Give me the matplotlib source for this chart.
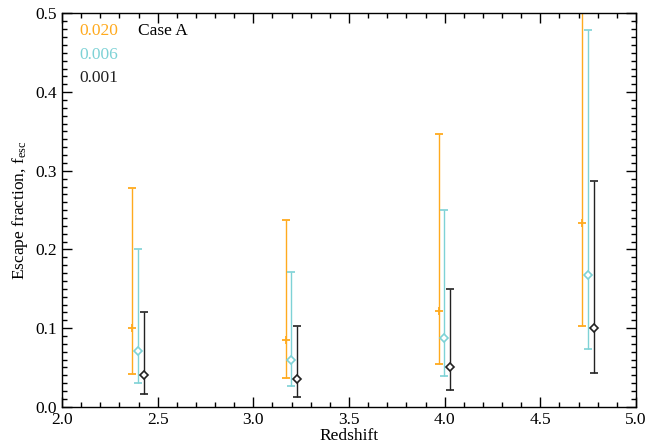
import numpy as np
import matplotlib
matplotlib.use('Agg')
import matplotlib.pyplot as plt
from matplotlib.ticker import MultipleLocator, FormatStrFormatter

plt.rcParams['font.family'] = ['Liberation Serif', 'DejaVu Serif']
plt.rcParams['mathtext.fontset'] = 'custom'
plt.rcParams['mathtext.rm'] = 'Liberation Serif'
plt.rcParams['mathtext.it'] = 'Liberation Serif:italic'

# escape fraction vs redshift, three metallicities (Case A)
z_020 = [2.365, 3.170, 3.968, 4.720]
f_020 = [0.100, 0.085, 0.122, 0.233]
lo_020 = [0.042, 0.037, 0.054, 0.103]
hi_020 = [0.278, 0.238, 0.347, 0.560]

z_006 = [2.396, 3.198, 3.998, 4.750]
f_006 = [0.071, 0.060, 0.087, 0.168]
lo_006 = [0.030, 0.026, 0.039, 0.074]
hi_006 = [0.200, 0.171, 0.250, 0.479]

z_001 = [2.426, 3.228, 4.029, 4.781]
f_001 = [0.041, 0.035, 0.051, 0.100]
lo_001 = [0.016, 0.013, 0.021, 0.043]
hi_001 = [0.120, 0.103, 0.150, 0.287]

series = [
    ('0.020', z_020, f_020, lo_020, hi_020, '#FFAA1E', '+'),
    ('0.006', z_006, f_006, lo_006, hi_006, '#7ED2D6', 'D'),
    ('0.001', z_001, f_001, lo_001, hi_001, '#222222', 'D'),
]

fs = 12.5

fig = plt.figure(figsize=(6.48, 4.48), dpi=100)
ax = fig.add_axes([0.0957, 0.092, 0.8858, 0.878])

for lab, z, f, lo, hi, col, mk in series:
    f = np.array(f)
    yerr = [f - np.array(lo), np.array(hi) - f]
    if mk == '+':
        ax.errorbar(z, f, yerr=yerr, fmt='+', color=col, ms=5.5, mew=1.3,
                    elinewidth=1.0, capsize=2.6, capthick=1.0)
    else:
        ax.errorbar(z, f, yerr=yerr, fmt='D', color=col, mfc='white', mec=col,
                    ms=4, mew=1.2, elinewidth=1.0, capsize=2.6, capthick=1.0)

ax.set_xlim(2.0, 5.0)
ax.set_ylim(0.0, 0.5)
ax.xaxis.set_major_locator(MultipleLocator(0.5))
ax.xaxis.set_minor_locator(MultipleLocator(0.1))
ax.yaxis.set_major_locator(MultipleLocator(0.1))
ax.yaxis.set_minor_locator(MultipleLocator(0.01))
ax.xaxis.set_major_formatter(FormatStrFormatter('%.1f'))
ax.yaxis.set_major_formatter(FormatStrFormatter('%.1f'))
ax.tick_params(which='both', direction='in', top=True, right=True,
               labelsize=fs, width=1.0)
ax.tick_params(which='major', length=7)
ax.tick_params(which='minor', length=3.5)
for s in ax.spines.values():
    s.set_linewidth(1.0)

ax.set_xlabel('Redshift', fontsize=fs, labelpad=0)
ax.set_ylabel(r'Escape fraction, f$_{\rm esc}$', fontsize=fs, labelpad=4)

# metallicity key
for i, (lab, *_rest) in enumerate(series):
    col = _rest[4]
    ax.text(0.031, 0.955 - i * 0.06, lab, color=col, fontsize=fs,
            transform=ax.transAxes, va='center', ha='left')
ax.text(0.132, 0.955, 'Case A', color='black', fontsize=fs,
        transform=ax.transAxes, va='center', ha='left')

fig.savefig('out.png', dpi=100)
